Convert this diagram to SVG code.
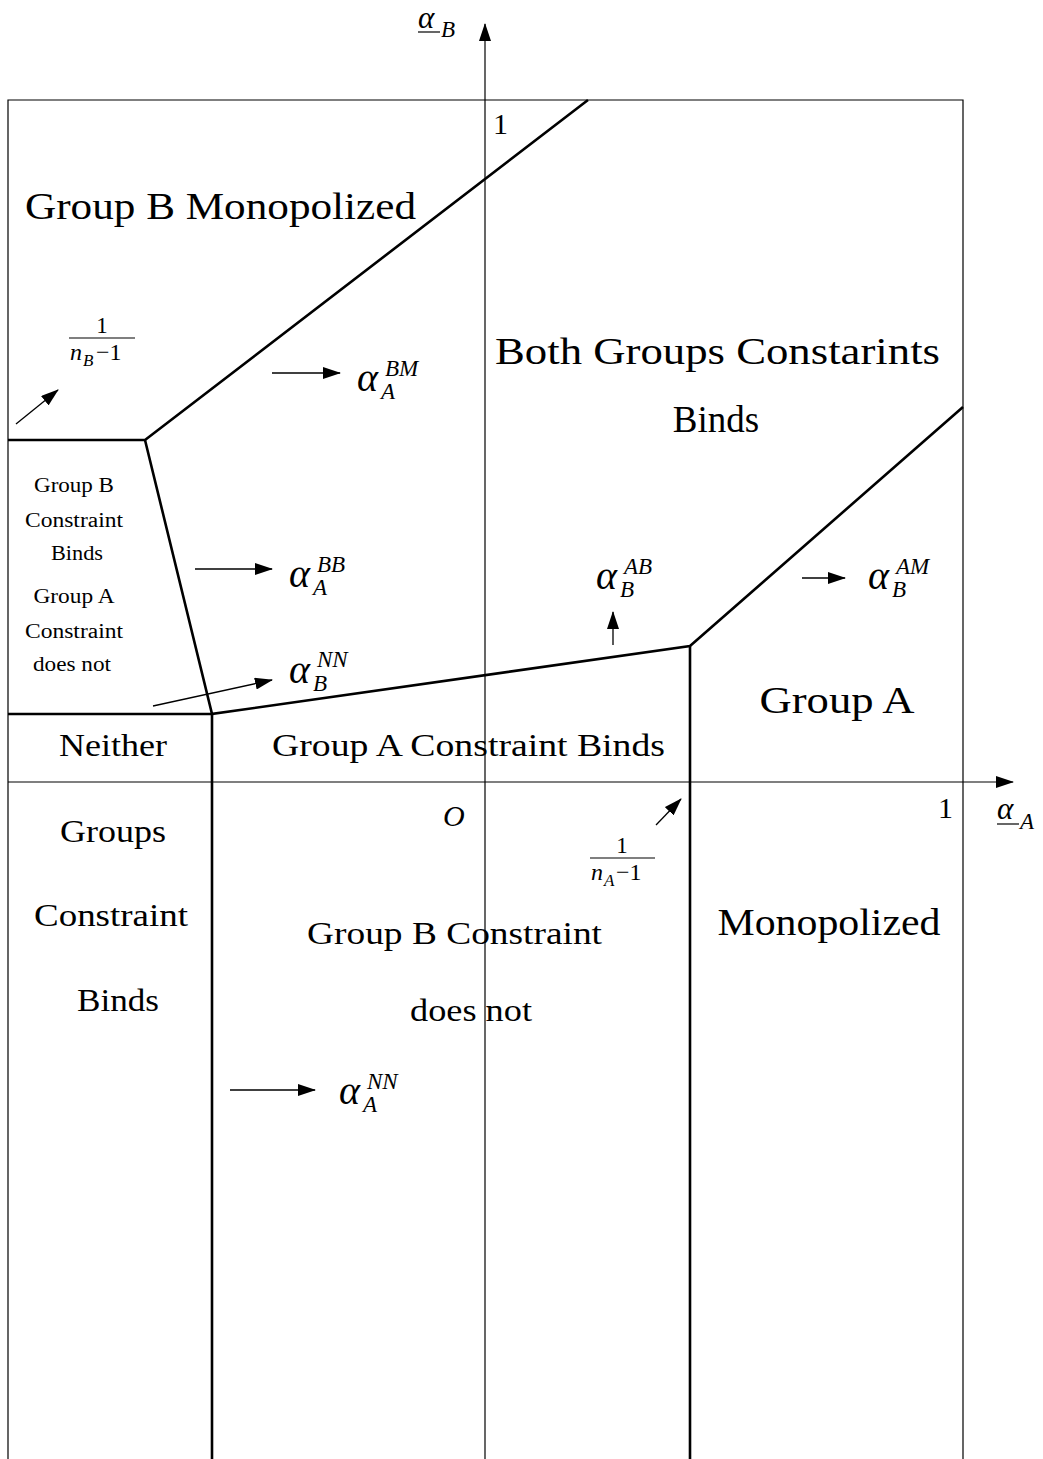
<svg xmlns="http://www.w3.org/2000/svg" width="1043" height="1459" viewBox="0 0 1043 1459">
<defs>
<marker id="ahs" markerWidth="18" markerHeight="12" refX="17" refY="6" orient="auto" markerUnits="userSpaceOnUse" viewBox="0 0 18 12">
<path d="M0,0 L18,6 L0,12 Z" fill="#000"/>
</marker>
</defs>
<style>
.t{font-family:"Liberation Serif","DejaVu Serif",serif;fill:#000}
.big{font-size:37px}
.mid{font-size:31px}
.sm{font-size:20px}
.m{font-family:"Liberation Serif","DejaVu Serif",serif;font-style:italic;fill:#000}
.a{font-size:40px}
.ax{font-size:31px}
.s{font-size:23px}
.thin{stroke:#000;stroke-width:1.2;fill:none}
.thick{stroke:#000;stroke-width:2.6;fill:none}
.arr{stroke:#000;stroke-width:1.3;fill:none;marker-end:url(#ahs)}
</style>
<rect width="1043" height="1459" fill="#fff"/>
<g id="frame">
<path class="thin" d="M8,1459 L8,100 L963,100 L963,1459"/>
</g>
<g id="axes">
<line class="thin" x1="485" y1="1459" x2="485" y2="24" marker-end="url(#ahs)"/>
<line class="thin" x1="8" y1="782" x2="1013" y2="782" marker-end="url(#ahs)"/>
</g>
<g id="boundaries">
<path class="thick" d="M588,100 L145,440 L8,440"/>
<path class="thick" d="M145,440 L212,714 L8,714"/>
<path class="thick" d="M212,1459 L212,714 L690,646 L963,407"/>
<path class="thick" d="M690,646 L690,1459"/>
</g>
<g id="connectors">
<line class="arr" x1="16" y1="424" x2="58" y2="390"/>
<line class="arr" x1="272" y1="373" x2="340" y2="373"/>
<line class="arr" x1="195" y1="569" x2="272" y2="569"/>
<line class="arr" x1="153" y1="706" x2="272" y2="680"/>
<line class="arr" x1="613" y1="645" x2="613" y2="612"/>
<line class="arr" x1="802" y1="578" x2="845" y2="578"/>
<line class="arr" x1="656" y1="825" x2="681" y2="799"/>
<line class="arr" x1="230" y1="1090" x2="315" y2="1090"/>
</g>
<g id="axis-labels">
<text class="m ax" x="418" y="28">α<tspan class="s" x="441" y="37">B</tspan></text>
<line class="thin" x1="418" y1="32" x2="440" y2="32"/>
<text class="t" style="font-size:30px" x="493" y="134">1</text>
<text class="m" style="font-size:30px" x="443" y="826">O</text>
<text class="t" style="font-size:30px" x="938" y="818">1</text>
<text class="m ax" x="997" y="819">α<tspan class="s" x="1020" y="829">A</tspan></text>
<line class="thin" x1="997" y1="824" x2="1019" y2="824"/>
</g>
<g id="frac-nB">
<text class="t" style="font-size:23px" x="102" y="333" text-anchor="middle">1</text>
<line class="thin" x1="69" y1="338" x2="135" y2="338"/>
<text class="m" style="font-size:24px" x="70" y="360">n<tspan style="font-size:17px" x="83" y="366">B</tspan><tspan style="font-style:normal" x="96" y="360">−1</tspan></text>
</g>
<g id="frac-nA">
<text class="t" style="font-size:23px" x="622" y="853" text-anchor="middle">1</text>
<line class="thin" x1="590" y1="858" x2="655" y2="858"/>
<text class="m" style="font-size:24px" x="591" y="880">n<tspan style="font-size:17px" x="604" y="886">A</tspan><tspan style="font-style:normal" x="616" y="880">−1</tspan></text>
</g>
<g id="region-BM">
<text class="t big" x="25" y="219" textLength="391" lengthAdjust="spacingAndGlyphs">Group B Monopolized</text>
</g>
<g id="label-BM">
<text class="m a" x="357" y="391">α<tspan class="s" x="385" y="376">BM</tspan><tspan class="s" x="381" y="399">A</tspan></text>
</g>
<g id="region-both">
<text class="t big" x="495" y="364" textLength="445" lengthAdjust="spacingAndGlyphs">Both Groups Constarints</text>
<text class="t big" x="716" y="432" text-anchor="middle">Binds</text>
</g>
<g id="region-Bbinds">
<text class="t sm" x="74" y="492" text-anchor="middle" textLength="80" lengthAdjust="spacingAndGlyphs">Group B</text>
<text class="t sm" x="74" y="527" text-anchor="middle" textLength="98" lengthAdjust="spacingAndGlyphs">Constraint</text>
<text class="t sm" x="77" y="560" text-anchor="middle" textLength="52" lengthAdjust="spacingAndGlyphs">Binds</text>
<text class="t sm" x="74" y="603" text-anchor="middle" textLength="81" lengthAdjust="spacingAndGlyphs">Group A</text>
<text class="t sm" x="74" y="638" text-anchor="middle" textLength="98" lengthAdjust="spacingAndGlyphs">Constraint</text>
<text class="t sm" x="72" y="671" text-anchor="middle" textLength="78" lengthAdjust="spacingAndGlyphs">does not</text>
</g>
<g id="label-BB">
<text class="m a" x="289" y="587">α<tspan class="s" x="317" y="572">BB</tspan><tspan class="s" x="313" y="595">A</tspan></text>
</g>
<g id="label-NNB">
<text class="m a" x="289" y="683">α<tspan class="s" x="317" y="667">NN</tspan><tspan class="s" x="313" y="691">B</tspan></text>
</g>
<g id="label-AB">
<text class="m a" x="596" y="589">α<tspan class="s" x="624" y="574">AB</tspan><tspan class="s" x="620" y="597">B</tspan></text>
</g>
<g id="label-AM">
<text class="m a" x="868" y="589">α<tspan class="s" x="896" y="574">AM</tspan><tspan class="s" x="892" y="597">B</tspan></text>
</g>
<g id="region-A">
<text class="t big" x="837" y="713" text-anchor="middle" textLength="155" lengthAdjust="spacingAndGlyphs">Group A</text>
<text class="t big" x="829" y="935" text-anchor="middle" textLength="223" lengthAdjust="spacingAndGlyphs">Monopolized</text>
</g>
<g id="region-neither">
<text class="t mid" x="113" y="756" text-anchor="middle" textLength="108" lengthAdjust="spacingAndGlyphs">Neither</text>
<text class="t mid" x="113" y="842" text-anchor="middle" textLength="106" lengthAdjust="spacingAndGlyphs">Groups</text>
<text class="t mid" x="111" y="926" text-anchor="middle" textLength="154" lengthAdjust="spacingAndGlyphs">Constraint</text>
<text class="t mid" x="118" y="1011" text-anchor="middle" textLength="82" lengthAdjust="spacingAndGlyphs">Binds</text>
</g>
<g id="region-Abinds">
<text class="t mid" x="272" y="756" textLength="393" lengthAdjust="spacingAndGlyphs">Group A Constraint Binds</text>
<text class="t mid" x="307" y="944" textLength="295" lengthAdjust="spacingAndGlyphs">Group B Constraint</text>
<text class="t mid" x="410" y="1021" textLength="122" lengthAdjust="spacingAndGlyphs">does not</text>
</g>
<g id="label-NNA">
<text class="m a" x="339" y="1104">α<tspan class="s" x="367" y="1089">NN</tspan><tspan class="s" x="363" y="1112">A</tspan></text>
</g>
</svg>
